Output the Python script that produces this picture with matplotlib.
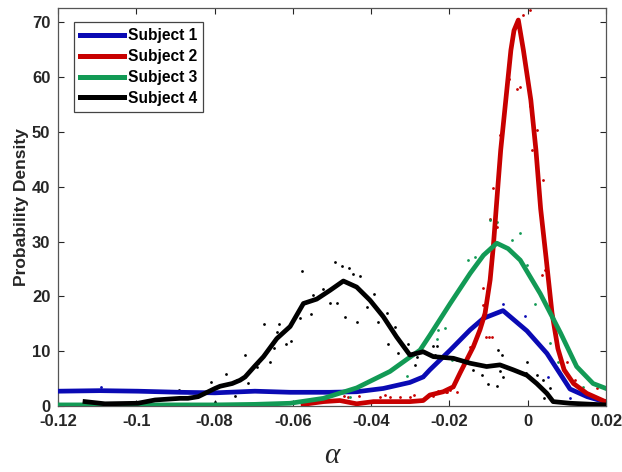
import matplotlib
matplotlib.use("Agg")
import matplotlib.pyplot as plt

# ---------------- data ----------------
labels = ["Subject 1", "Subject 2", "Subject 3", "Subject 4"]
colors = ["#0a0ab4", "#c80000", "#129a55", "#000000"]

s1_x = [-0.1200, -0.1093, -0.0996, -0.0888, -0.0799, -0.0697, -0.0607, -0.0505, -0.0437,
        -0.0369, -0.0301, -0.0267, -0.0250, -0.0198, -0.0147, -0.0113, -0.0063, -0.0002,
        0.0049, 0.0108, 0.0152, 0.0200]
s1_y = [2.7, 2.8, 2.7, 2.5, 2.4, 2.7, 2.5, 2.5, 2.6, 3.2, 4.3, 5.3, 6.6, 10.2, 13.9, 16.0,
        17.4, 13.7, 9.6, 3.1, 1.7, 0.7]

s2_x = [-0.0574, -0.0522, -0.0480, -0.0437, -0.0394, -0.0352, -0.0301, -0.0267, -0.0250,
        -0.0216, -0.0190, -0.0173, -0.0156, -0.0139, -0.0122, -0.0109, -0.0096, -0.0088,
        -0.0075, -0.0069, -0.0056, -0.0043, -0.0035, -0.0024, -0.0011, 0.0008, 0.0021,
        0.0033, 0.0047, 0.0062, 0.0077, 0.0093, 0.0117, 0.0151, 0.0198]
s2_y = [0.3, 0.8, 1.0, 0.4, 0.8, 0.8, 0.8, 1.0, 2.0, 2.6, 3.5, 6.0, 8.4, 10.8, 13.9, 16.9,
        23.0, 29.0, 41.2, 46.7, 55.8, 64.9, 68.5, 70.4, 64.9, 55.8, 46.7, 36.0, 27.0, 17.0,
        10.5, 6.6, 4.1, 2.3, 0.8]

s3_x = [-0.1200, -0.1001, -0.0799, -0.0697, -0.0607, -0.0522, -0.0437, -0.0352, -0.0309,
        -0.0275, -0.0250, -0.0198, -0.0147, -0.0113, -0.0079, -0.0050, -0.0019, 0.0032,
        0.0084, 0.0125, 0.0167, 0.0200]
s3_y = [0.2, 0.2, 0.2, 0.3, 0.5, 1.4, 3.3, 6.3, 8.5, 10.2, 12.9, 18.7, 24.2, 27.5, 29.7,
        28.7, 26.6, 20.5, 13.3, 7.2, 4.1, 3.2]

s4_x = [-0.1131, -0.1080, -0.0996, -0.0952, -0.0888, -0.0868, -0.0842, -0.0799, -0.0786,
        -0.0755, -0.0735, -0.0722, -0.0697, -0.0675, -0.0641, -0.0607, -0.0573, -0.0539,
        -0.0505, -0.0471, -0.0437, -0.0403, -0.0369, -0.0335, -0.0301, -0.0267, -0.0241,
        -0.0190, -0.0147, -0.0105, -0.0071, -0.0037, -0.0002, 0.0023, 0.0049, 0.0065,
        0.0108, 0.0198]
s4_y = [0.8, 0.4, 0.5, 1.1, 1.4, 1.4, 1.7, 3.2, 3.6, 4.1, 4.7, 5.3, 7.3, 9.0, 12.3, 14.5,
        18.7, 19.5, 21.1, 22.8, 21.7, 19.3, 16.3, 12.6, 9.3, 9.9, 9.0, 8.7, 7.8, 7.2, 7.5,
        6.6, 5.6, 4.1, 2.3, 0.8, 0.5, 0.2]

# scattered raw samples
d1_x = [-0.1089, -0.0064, -0.0007, 0.0051, 0.0108]
d1_y = [3.4, 18.6, 16.4, 5.3, 1.4]

d2_x = [-0.0011, 0.0006, -0.0020, -0.0047, -0.0089, 0.0040, -0.0071, 0.0023, 0.0010,
        -0.0028, 0.0006, -0.0098, -0.0092, -0.0096, -0.0078, -0.0115, -0.0113, -0.0147,
        -0.0160, -0.0190, -0.0207, -0.0228, -0.0241, -0.0258, 0.0044, 0.0036, 0.0051,
        0.0074, 0.0100, 0.0121, 0.0151, 0.0176, 0.0198, -0.0106, 0.0087, 0.0095,
        -0.0377, -0.0326, -0.0301, -0.0458, -0.0352, -0.0198, -0.0365, -0.0290,
        -0.0210, -0.0180, -0.0470, -0.0430]
d2_y = [71.3, 72.2, 58.2, 59.7, 39.7, 41.3, 49.4, 50.3, 46.7, 57.9, 54.7, 12.5, 12.5, 34.2,
        32.7, 21.5, 18.4, 10.8, 7.8, 3.5, 2.6, 2.8, 1.8, 1.7, 24.8, 23.9, 17.8, 11.4, 8.1,
        4.7, 2.3, 3.2, 1.1, 12.6, 8.1, 11.4, 1.7, 1.7, 1.7, 1.7, 1.7, 2.9, 2.0, 2.0, 2.6,
        2.6, 1.8, 1.8]

d3_x = [-0.0152, -0.0135, -0.0096, -0.0078, -0.0041, -0.0020, -0.0001, 0.0019, 0.0049,
        -0.0211, -0.0232, 0.0057, 0.0078, 0.0095, -0.0267, -0.0194, 0.0142, -0.0454,
        -0.0309, -0.0228]
d3_y = [26.7, 27.1, 34.0, 33.6, 30.3, 31.5, 25.7, 18.6, 17.8, 14.2, 12.2, 11.5, 8.1, 6.3,
        5.3, 8.4, 3.5, 1.7, 5.5, 13.9]

d4_x = [-0.0577, -0.0492, -0.0475, -0.0456, -0.0447, -0.0428, -0.0522, -0.0548, -0.0505,
        -0.0486, -0.0554, -0.0467, -0.0437, -0.0411, -0.0393, -0.0360, -0.0382, -0.0339,
        -0.0356, -0.0331, -0.0305, -0.0284, -0.0288, -0.0673, -0.0635, -0.0641, -0.0605,
        -0.0617, -0.0647, -0.0658, -0.0688, -0.0692, -0.0583, -0.0241, -0.0231, -0.0237,
        -0.0203, -0.0181, -0.0164, -0.0139, -0.0117, -0.0101, -0.0079, -0.0077, -0.0066,
        -0.0002, -0.0004, 0.0023, -0.0071, -0.0062, 0.0040, 0.0057, 0.0042, -0.0722,
        -0.0772, -0.0809, -0.0890, -0.0743, -0.0714, -0.0748, -0.0799]
d4_y = [24.7, 26.3, 25.5, 25.1, 24.1, 23.8, 21.4, 20.2, 18.8, 18.8, 16.8, 16.3, 15.4, 18.1,
        20.5, 17.0, 15.4, 14.5, 11.4, 9.7, 11.4, 9.0, 7.5, 14.9, 14.9, 13.5, 11.9, 11.4,
        10.5, 8.1, 7.8, 7.1, 16.0, 11.0, 11.0, 9.3, 9.9, 8.4, 8.1, 6.6, 5.6, 4.0, 3.6, 10.2,
        9.3, 8.1, 6.0, 5.6, 6.3, 5.3, 4.7, 3.2, 1.4, 9.3, 5.8, 4.3, 3.0, 4.7, 4.2, 1.9, 0.8]

x_ticks = [-0.12, -0.1, -0.08, -0.06, -0.04, -0.02, 0, 0.02]
x_tick_labels = ["-0.12", "-0.1", "-0.08", "-0.06", "-0.04", "-0.02", "0", "0.02"]
y_ticks = [0, 10, 20, 30, 40, 50, 60, 70]

# ---------------- figure ----------------
plt.rcParams["font.family"] = ["Liberation Sans", "DejaVu Sans"]
fig = plt.figure(figsize=(6.22, 4.72), dpi=100)
ax = fig.add_axes([58 / 622, 66 / 472, 548 / 622, 398 / 472])

lines_xy = [(s1_x, s1_y), (s2_x, s2_y), (s3_x, s3_y), (s4_x, s4_y)]
dots_xy = [(d1_x, d1_y), (d2_x, d2_y), (d3_x, d3_y), (d4_x, d4_y)]

for (lx, ly), (dx, dy), c, lab in zip(lines_xy, dots_xy, colors, labels):
    ax.scatter(dx, dy, s=4, color=c, linewidths=0, zorder=2)
    ax.plot(lx, ly, color=c, lw=3.4, label=lab, zorder=3, solid_joinstyle="round")

ax.set_xlim(-0.12, 0.02)
ax.set_ylim(0, 72.6)
ax.set_xticks(x_ticks)
ax.set_xticklabels(x_tick_labels)
ax.set_yticks(y_ticks)

tick_color = "#262626"
ax.tick_params(direction="in", top=True, right=True, length=4, width=0.8,
               colors=tick_color, labelsize=12)
ax.tick_params(axis="y", pad=5.5)
ax.tick_params(axis="x", pad=6)
for lbl in ax.get_xticklabels() + ax.get_yticklabels():
    lbl.set_fontweight("bold")
for sp in ax.spines.values():
    sp.set_color("#555555")
    sp.set_linewidth(0.9)

ax.set_ylabel("Probability Density", fontsize=12.5, fontweight="bold", color=tick_color,
              labelpad=2.5)
ax.set_xlabel("α", fontsize=21, fontstyle="italic", family=["Liberation Serif", "DejaVu Serif"],
              color=tick_color, labelpad=10)

leg = ax.legend(loc="upper left", bbox_to_anchor=(0.029, 0.965), borderaxespad=0,
                fancybox=False, framealpha=1, edgecolor="#444444",
                handlelength=2.8, handletextpad=0.28, labelspacing=0.38, borderpad=0.4,
                prop={"weight": "bold", "size": 11.2})
leg.get_frame().set_linewidth(0.9)
for h in leg.get_lines():
    h.set_linewidth(3.6)

fig.savefig("out.png", dpi=100)
